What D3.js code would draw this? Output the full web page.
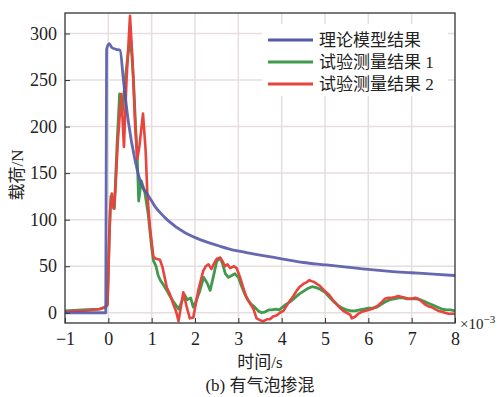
<!DOCTYPE html>
<html>
<head>
<meta charset="UTF-8">
<title>有气泡掺混</title>
<script src="https://cdn.jsdelivr.net/npm/d3@7"></script>
<style>
  body { margin: 0; background: #fff; }
  text { font-family: "Liberation Serif", "Times New Roman", "Noto Sans CJK SC", serif; fill: #222; }
</style>
</head>
<body>
<svg id="chart" width="504" height="397"></svg>
<script>
// 时间单位 ×10^-3 s
var xTicks = [-1, 0, 1, 2, 3, 4, 5, 6, 7, 8];
var yTicks = [0, 50, 100, 150, 200, 250, 300];
var seriesNames = ["理论模型结果", "试验测量结果 1", "试验测量结果 2"];

// 理论模型结果
var timeModel = [-1, -0.06, -0.04, 0.02, 0.08, 0.18, 0.27, 0.35, 0.46, 0.62, 0.77, 0.92, 1.0, 1.08, 1.27, 1.38, 1.77, 2.15, 2.54, 2.92, 3.15, 3.5, 4.0, 4.5, 5.0, 5.5, 6.0, 6.5, 7.0, 7.5, 8.0];
var loadModel = [0, 0, 283, 289, 285, 283, 282, 249, 206, 163, 137, 126, 120, 114, 104, 99, 86, 78, 72, 67, 65, 62, 58, 54, 51.5, 49, 46.5, 44.5, 43, 41.5, 40];

// 试验测量结果 1
var timeTest1 = [-1, -0.6, -0.2, -0.06, -0.02, 0.02, 0.06, 0.1, 0.14, 0.2, 0.26, 0.32, 0.4, 0.46, 0.52, 0.58, 0.63, 0.67, 0.7, 0.76, 0.84, 0.92, 1.0, 1.04, 1.1, 1.15, 1.2, 1.27, 1.35, 1.42, 1.5, 1.56, 1.62, 1.68, 1.75, 1.82, 1.9, 1.96, 2.02, 2.1, 2.2, 2.28, 2.35, 2.42, 2.5, 2.58, 2.64, 2.7, 2.77, 2.85, 2.92, 3.0, 3.08, 3.15, 3.22, 3.3, 3.38, 3.46, 3.54, 3.62, 3.7, 3.78, 3.86, 3.94, 4.02, 4.1, 4.2, 4.3, 4.4, 4.5, 4.6, 4.7, 4.8, 4.9, 5.0, 5.1, 5.2, 5.3, 5.4, 5.5, 5.6, 5.7, 5.8, 5.9, 6.0, 6.1, 6.2, 6.3, 6.4, 6.5, 6.6, 6.7, 6.8, 6.9, 7.0, 7.1, 7.2, 7.3, 7.4, 7.5, 7.6, 7.7, 7.8, 7.9, 8.0];
var loadTest1 = [2, 3, 4, 6, 10, 80, 125, 120, 112, 180, 235, 215, 255, 280, 292, 250, 200, 163, 120, 142, 130, 106, 70, 56, 50, 40, 35, 30, 24, 18, 12, 8, 4, 10, 20, 14, 16, 6, 12, 22, 38, 32, 24, 38, 55, 59, 52, 42, 38, 40, 42, 38, 28, 20, 14, 9, 6, 2, 0, 1, 3, 3, 4, 3, 6, 9, 12, 16, 20, 23, 26, 28, 27, 25, 22, 17, 12, 8, 5, 3, 2, 2, 3, 4, 5, 5, 6, 9, 12, 14, 15, 16, 16, 15, 15, 15, 14, 12, 10, 8, 6, 4, 3, 3, 2];

// 试验测量结果 2
var timeTest2 = [-1, -0.8, -0.6, -0.4, -0.2, -0.08, -0.02, 0.0, 0.04, 0.08, 0.12, 0.16, 0.22, 0.3, 0.36, 0.42, 0.5, 0.56, 0.62, 0.67, 0.72, 0.8, 0.86, 0.9, 0.96, 1.04, 1.1, 1.19, 1.25, 1.35, 1.42, 1.5, 1.56, 1.62, 1.67, 1.73, 1.8, 1.88, 1.96, 2.02, 2.08, 2.14, 2.19, 2.25, 2.31, 2.38, 2.44, 2.5, 2.58, 2.64, 2.69, 2.75, 2.81, 2.9, 2.96, 3.04, 3.12, 3.19, 3.27, 3.35, 3.42, 3.5, 3.58, 3.66, 3.73, 3.8, 3.88, 3.96, 4.04, 4.12, 4.19, 4.27, 4.35, 4.42, 4.5, 4.58, 4.64, 4.69, 4.75, 4.81, 4.88, 4.92, 5.0, 5.08, 5.18, 5.27, 5.35, 5.42, 5.5, 5.58, 5.62, 5.7, 5.77, 5.85, 5.92, 6.0, 6.08, 6.16, 6.23, 6.3, 6.38, 6.46, 6.54, 6.62, 6.69, 6.77, 6.85, 6.92, 7.0, 7.08, 7.15, 7.23, 7.31, 7.38, 7.46, 7.54, 7.62, 7.7, 7.77, 7.85, 7.92, 8.0];
var loadTest2 = [1, 2, 2, 3, 4, 6, 8, 40, 110, 128, 112, 130, 185, 235, 178, 250, 319, 270, 200, 165, 180, 214, 175, 128, 92, 60, 58, 57, 49, 27, 20, 9, 2, -9, 5, 22, 8, -6, -5, 10, 25, 36, 45, 50, 52, 47, 53, 58, 59, 55, 50, 52, 48, 50, 48, 38, 26, 16, 10, 4, -6, -8, -9, -7, -7, -4, -3, 0, 2, 8, 13, 18, 24, 28, 31, 33, 35, 34, 33, 31, 29, 27, 23, 20, 14, 9, 5, 2, 0, -2, -6, -4, -1, 1, 2, 3, 4, 6, 8, 11, 15, 16, 16, 17, 18, 17, 16, 15, 15, 16, 15, 12, 9, 7, 6, 4, 2, 1, 0, -1, -1, -1];

var svg = d3.select("#chart");
var margin = { top: 13, left: 65 };
var innerW = 390, innerH = 310;

var x = d3.scaleLinear().domain([-1, 8]).range([margin.left, margin.left + innerW]);
var y = d3.scaleLinear().domain([-11, 322]).range([margin.top + innerH, margin.top]);

svg.append("clipPath").attr("id", "plotClip")
    .append("rect")
    .attr("x", margin.left).attr("y", margin.top)
    .attr("width", innerW).attr("height", innerH);

// 网格
var grid = svg.append("g").attr("stroke", "#e6dede").attr("stroke-width", 1.5);
grid.selectAll(".gx").data(xTicks.slice(1, -1)).enter().append("line")
    .attr("x1", d => x(d)).attr("x2", d => x(d))
    .attr("y1", margin.top).attr("y2", margin.top + innerH);
grid.selectAll(".gy").data(yTicks).enter().append("line")
    .attr("x1", margin.left).attr("x2", margin.left + innerW)
    .attr("y1", d => y(d)).attr("y2", d => y(d));

// 曲线
var line = d3.line().x(d => x(d[0])).y(d => y(d[1]));
var smooth = d3.line().x(d => x(d[0])).y(d => y(d[1])).curve(d3.curveMonotoneX);
var curves = svg.append("g").attr("clip-path", "url(#plotClip)").attr("fill", "none")
    .attr("stroke-linejoin", "round");

curves.append("path")
    .datum(d3.zip(timeTest1, loadTest1))
    .attr("d", line).attr("stroke", "#3f9a4d").attr("stroke-width", 2.8);
curves.append("path")
    .datum(d3.zip(timeTest2, loadTest2))
    .attr("d", line).attr("stroke", "#e6443d").attr("stroke-width", 2.6);
curves.append("path")
    .datum(d3.zip(timeModel, loadModel))
    .attr("d", smooth).attr("stroke", "#5559a8").attr("stroke-width", 2.8).attr("opacity", 0.9);

// 坐标轴
var xAxis = d3.axisBottom(x).tickValues(xTicks).tickSize(-5).tickPadding(9)
    .tickFormat(d => d < 0 ? "\u2212" + Math.abs(d) : d);
var gx = svg.append("g").attr("transform", `translate(0, ${margin.top + innerH})`).call(xAxis);
var yAxis = d3.axisLeft(y).tickValues(yTicks).tickSize(-5).tickPadding(8);
var gy = svg.append("g").attr("transform", `translate(${margin.left}, 0)`).call(yAxis);
[gx, gy].forEach(function (g) {
    g.select(".domain").remove();
    g.selectAll("line").attr("stroke", "#333");
    g.selectAll("text").style("font-size", "18px").attr("fill", "#222");
});

svg.append("rect")
    .attr("x", margin.left).attr("y", margin.top)
    .attr("width", innerW).attr("height", innerH)
    .attr("fill", "none").attr("stroke", "#333").attr("stroke-width", 1.3);

// 图例
var legend = svg.append("g");
legend.append("rect").attr("x", 262).attr("y", 24).attr("width", 186).attr("height", 72).attr("fill", "#fff");
var legendColors = ["#5559a8", "#3f9a4d", "#e6443d"];
seriesNames.forEach(function (name, i) {
    var ly = 40 + i * 22;
    legend.append("line").attr("x1", 268).attr("x2", 313).attr("y1", ly).attr("y2", ly)
        .attr("stroke", legendColors[i]).attr("stroke-width", 2.8);
    legend.append("text").attr("x", 319).attr("y", ly).attr("dy", "0.35em")
        .style("font-size", "17px").text(name);
});

// 标签
svg.append("text").attr("x", 460).attr("y", 329).style("font-size", "15px")
    .html("×10<tspan dy='-6' font-size='11px'>−3</tspan>");
svg.append("text").attr("x", 260).attr("y", 368).attr("text-anchor", "middle")
    .style("font-size", "17px").text("时间/s");
svg.append("text").attr("x", 260).attr("y", 391).attr("text-anchor", "middle")
    .style("font-size", "17px").text("(b) 有气泡掺混");
svg.append("text").attr("transform", "translate(23, 175) rotate(-90)").attr("text-anchor", "middle")
    .style("font-size", "17px").text("载荷/N");
</script>
</body>
</html>
